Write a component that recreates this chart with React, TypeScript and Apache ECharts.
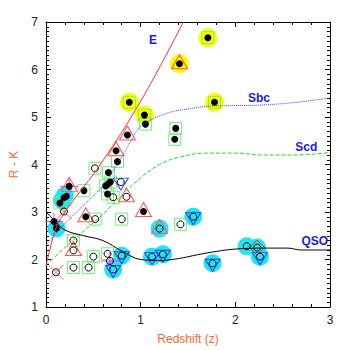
import React, { useEffect, useRef } from "react";
import * as echarts from "echarts";

// Model curves [z, R-K]
const curveE = [[0, 1.87], [0.06, 2.36], [0.115, 2.71], [0.2, 3.0], [0.325, 3.34], [0.57, 3.99], [0.9, 5.0], [1.19, 6.01], [1.45, 7.0]];
const curveSbc = [[0, 2.3], [0.15, 2.65], [0.4, 3.15], [0.6, 3.55], [0.75, 4.0], [0.9, 4.5], [1.0, 4.8], [1.25, 5.06], [1.5, 5.17], [1.75, 5.23], [2.0, 5.24], [2.25, 5.25], [2.6, 5.3], [3.0, 5.4]];
const curveScd = [[0, 1.88], [0.2, 2.25], [0.4, 2.6], [0.6, 2.95], [0.8, 3.35], [1.0, 3.72], [1.2, 4.0], [1.4, 4.15], [1.7, 4.24], [2.0, 4.24], [2.3, 4.2], [2.6, 4.2], [3.0, 4.25]];
const curveQSO = [[0, 3.0], [0.1, 2.8], [0.2, 2.62], [0.4, 2.5], [0.6, 2.4], [0.8, 2.18], [1.0, 2.0], [1.2, 1.98], [1.4, 2.02], [1.6, 2.1], [1.8, 2.17], [2.0, 2.22], [2.3, 2.24], [2.55, 2.24], [2.7, 2.2], [3.0, 2.2]];

const curveLabels = [
  { name: "E", value: [1.13, 6.62] },
  { name: "Sbc", value: [2.25, 5.4] },
  { name: "Scd", value: [2.75, 4.37] },
  { name: "QSO", value: [2.84, 2.39] },
];

// Objects by marker type [z, R-K]
const yellowHalo = [[1.41, 6.12], [1.71, 6.67], [0.88, 5.31], [1.04, 5.04], [1.78, 5.31]];
const cyanHalo = [[0.2, 3.35], [0.17, 3.25], [0.11, 2.66], [0.8, 2.08], [0.71, 1.79], [1.12, 2.06], [1.235, 2.11], [1.2, 2.65], [1.556, 2.9], [1.76, 1.92], [2.12, 2.28], [2.23, 2.25], [2.26, 2.06]];
const greenSquare = [[1.71, 6.67], [0.88, 5.31], [1.04, 5.04], [1.05, 4.85], [1.78, 5.31], [1.37, 4.76], [1.36, 4.53], [0.755, 4.06], [0.66, 3.83], [0.517, 3.92], [0.68, 3.63], [0.63, 3.55], [0.65, 3.38], [0.71, 3.31], [0.8, 2.85], [0.52, 2.85], [0.4, 3.45], [0.147, 3.19], [0.29, 2.4], [0.29, 1.83], [0.45, 1.83], [0.5, 2.06], [0.65, 2.12], [1.42, 2.74]];
const redTriangle = [[1.41, 6.12], [0.86, 4.62], [0.74, 4.29], [0.85, 3.32], [1.03, 3.01], [0.42, 2.9], [0.245, 3.54], [0.29, 2.19], [1.2, 2.65]];
const blueTriangle = [[0.79, 3.63], [0.8, 2.08], [0.71, 1.79], [1.12, 2.06], [1.235, 2.11], [1.556, 2.9], [1.76, 1.92], [2.26, 2.06]];
const magentaPlus = [[0.245, 3.54], [0.084, 2.8], [0.675, 1.97]];
const redCross = [[0.19, 3.01], [0.105, 1.73]];
const diamond = [[2.23, 2.25]];
const filledDot = [[1.41, 6.12], [1.71, 6.67], [0.88, 5.31], [1.04, 5.04], [1.05, 4.85], [1.78, 5.31], [1.37, 4.76], [1.36, 4.53], [0.86, 4.62], [0.74, 4.29], [0.755, 4.06], [0.66, 3.83], [0.68, 3.63], [0.655, 3.59], [0.63, 3.55], [0.65, 3.38], [1.03, 3.01], [0.42, 2.9], [0.4, 3.45], [0.245, 3.54], [0.215, 3.33], [0.19, 3.3], [0.147, 3.19], [0.084, 2.8], [0.11, 2.66]];
const openCircle = [[0.517, 3.92], [0.71, 3.31], [0.79, 3.63], [0.85, 3.32], [0.8, 2.85], [0.52, 2.85], [0.19, 3.01], [0.29, 2.4], [0.29, 2.19], [0.105, 1.73], [0.29, 1.83], [0.45, 1.83], [0.5, 2.06], [0.65, 2.12], [0.675, 1.97], [0.8, 2.08], [0.71, 1.79], [1.12, 2.06], [1.235, 2.11], [1.2, 2.65], [1.42, 2.74], [1.556, 2.9], [1.76, 1.92], [2.12, 2.28], [2.23, 2.25], [2.26, 2.06]];

const xTicks = [0, 1, 2, 3];
const yTicks = [1, 2, 3, 4, 5, 6, 7];

const FONT = "Liberation Sans";
const ORANGE = "#ff6633";

export default function App() {
  const ref = useRef<HTMLDivElement>(null);
  useEffect(() => {
    if (!ref.current) return;
    const chart = echarts.init(ref.current, undefined, { renderer: "svg" });
    const tick = { show: true, inside: true, length: 5, lineStyle: { color: "#000" } };
    const axisLine = { show: true, onZero: false, lineStyle: { color: "#000", width: 1 } };
    const xBase = {
      type: "value" as const, min: xTicks[0], max: xTicks[xTicks.length - 1], interval: 1,
      axisLine, axisTick: tick, splitLine: { show: false },
      minorTick: { show: true, splitNumber: 5, length: 3, lineStyle: { color: "#000" } },
    };
    const yBase = {
      type: "value" as const, min: yTicks[0], max: yTicks[yTicks.length - 1], interval: 1,
      axisLine, axisTick: tick, splitLine: { show: false },
      minorTick: { show: true, splitNumber: 10, length: 3, lineStyle: { color: "#000" } },
    };
    const scatter = (data: number[][], symbol: string, size: any, style: any, extra: any = {}) => ({
      type: "scatter", data, symbol, symbolSize: size, itemStyle: { opacity: 1, ...style }, silent: true, ...extra,
    });
    const line = (data: number[][], color: string, type: string) => ({
      type: "line", data, smooth: 0.4, showSymbol: false, symbol: "none", silent: true,
      lineStyle: { color, width: 1, type },
    });
    chart.setOption({
      animation: false,
      grid: { left: 44, right: 19, top: 22, bottom: 43 },
      xAxis: [
        { ...xBase, position: "bottom",
          axisLabel: { color: "#222", fontSize: 12, fontFamily: FONT, margin: 7 },
          name: "Redshift (z)", nameLocation: "middle", nameGap: 26,
          nameTextStyle: { color: ORANGE, fontSize: 12, fontFamily: FONT } },
        { ...xBase, position: "top", axisLabel: { show: false } },
      ],
      yAxis: [
        { ...yBase, position: "left",
          axisLabel: { color: "#222", fontSize: 12, fontFamily: FONT, margin: 8 },
          name: "R - K", nameLocation: "middle", nameGap: 26,
          nameTextStyle: { color: ORANGE, fontSize: 12, fontFamily: FONT } },
        { ...yBase, position: "right", axisLabel: { show: false } },
      ],
      series: [
        scatter(yellowHalo, "circle", 19, { color: "#ffff00" }),
        scatter(cyanHalo, "circle", 18, { color: "#22e5f2" }),
        line(curveE, "#ff3030", "solid"),
        line(curveSbc, "#3344ff", "dotted"),
        line(curveScd, "#22dd22", "dashed"),
        line(curveQSO, "#000000", "solid"),
        scatter(greenSquare, "rect", 12, { color: "transparent", borderColor: "#77ee77", borderWidth: 1 }),
        scatter(redTriangle, "triangle", [16, 14], { color: "transparent", borderColor: "#ff5555", borderWidth: 1 }, { symbolOffset: [0, -2] }),
        scatter(blueTriangle, "triangle", [15, 12], { color: "transparent", borderColor: "#2244ff", borderWidth: 1 }, { symbolRotate: 180, symbolOffset: [0, 2] }),
        scatter(diamond, "diamond", 15, { color: "transparent", borderColor: "#cc3333", borderWidth: 1 }),
        scatter(magentaPlus, "path://M5,0L5,10M0,5L10,5", 18, { color: "transparent", borderColor: "#ff33ff", borderWidth: 1 }),
        scatter(redCross, "path://M0,0L10,10M10,0L0,10", 15, { color: "transparent", borderColor: "#ff6666", borderWidth: 1 }),
        scatter(filledDot, "circle", 7, { color: "#000" }),
        scatter(openCircle, "circle", 7, { color: "transparent", borderColor: "#000", borderWidth: 1 }),
        {
          type: "scatter", data: curveLabels, symbolSize: 0, silent: true, clip: false, z: 10,
          itemStyle: { opacity: 1 },
          label: { show: true, position: "inside", formatter: "{b}", color: "#1a1ae6", fontWeight: "bold", fontSize: 12, fontFamily: FONT },
        },
      ],
    });
    return () => chart.dispose();
  }, []);
  return <div ref={ref} style={{ width: 349, height: 350, position: "absolute", left: 0, top: 0 }} />;
}
